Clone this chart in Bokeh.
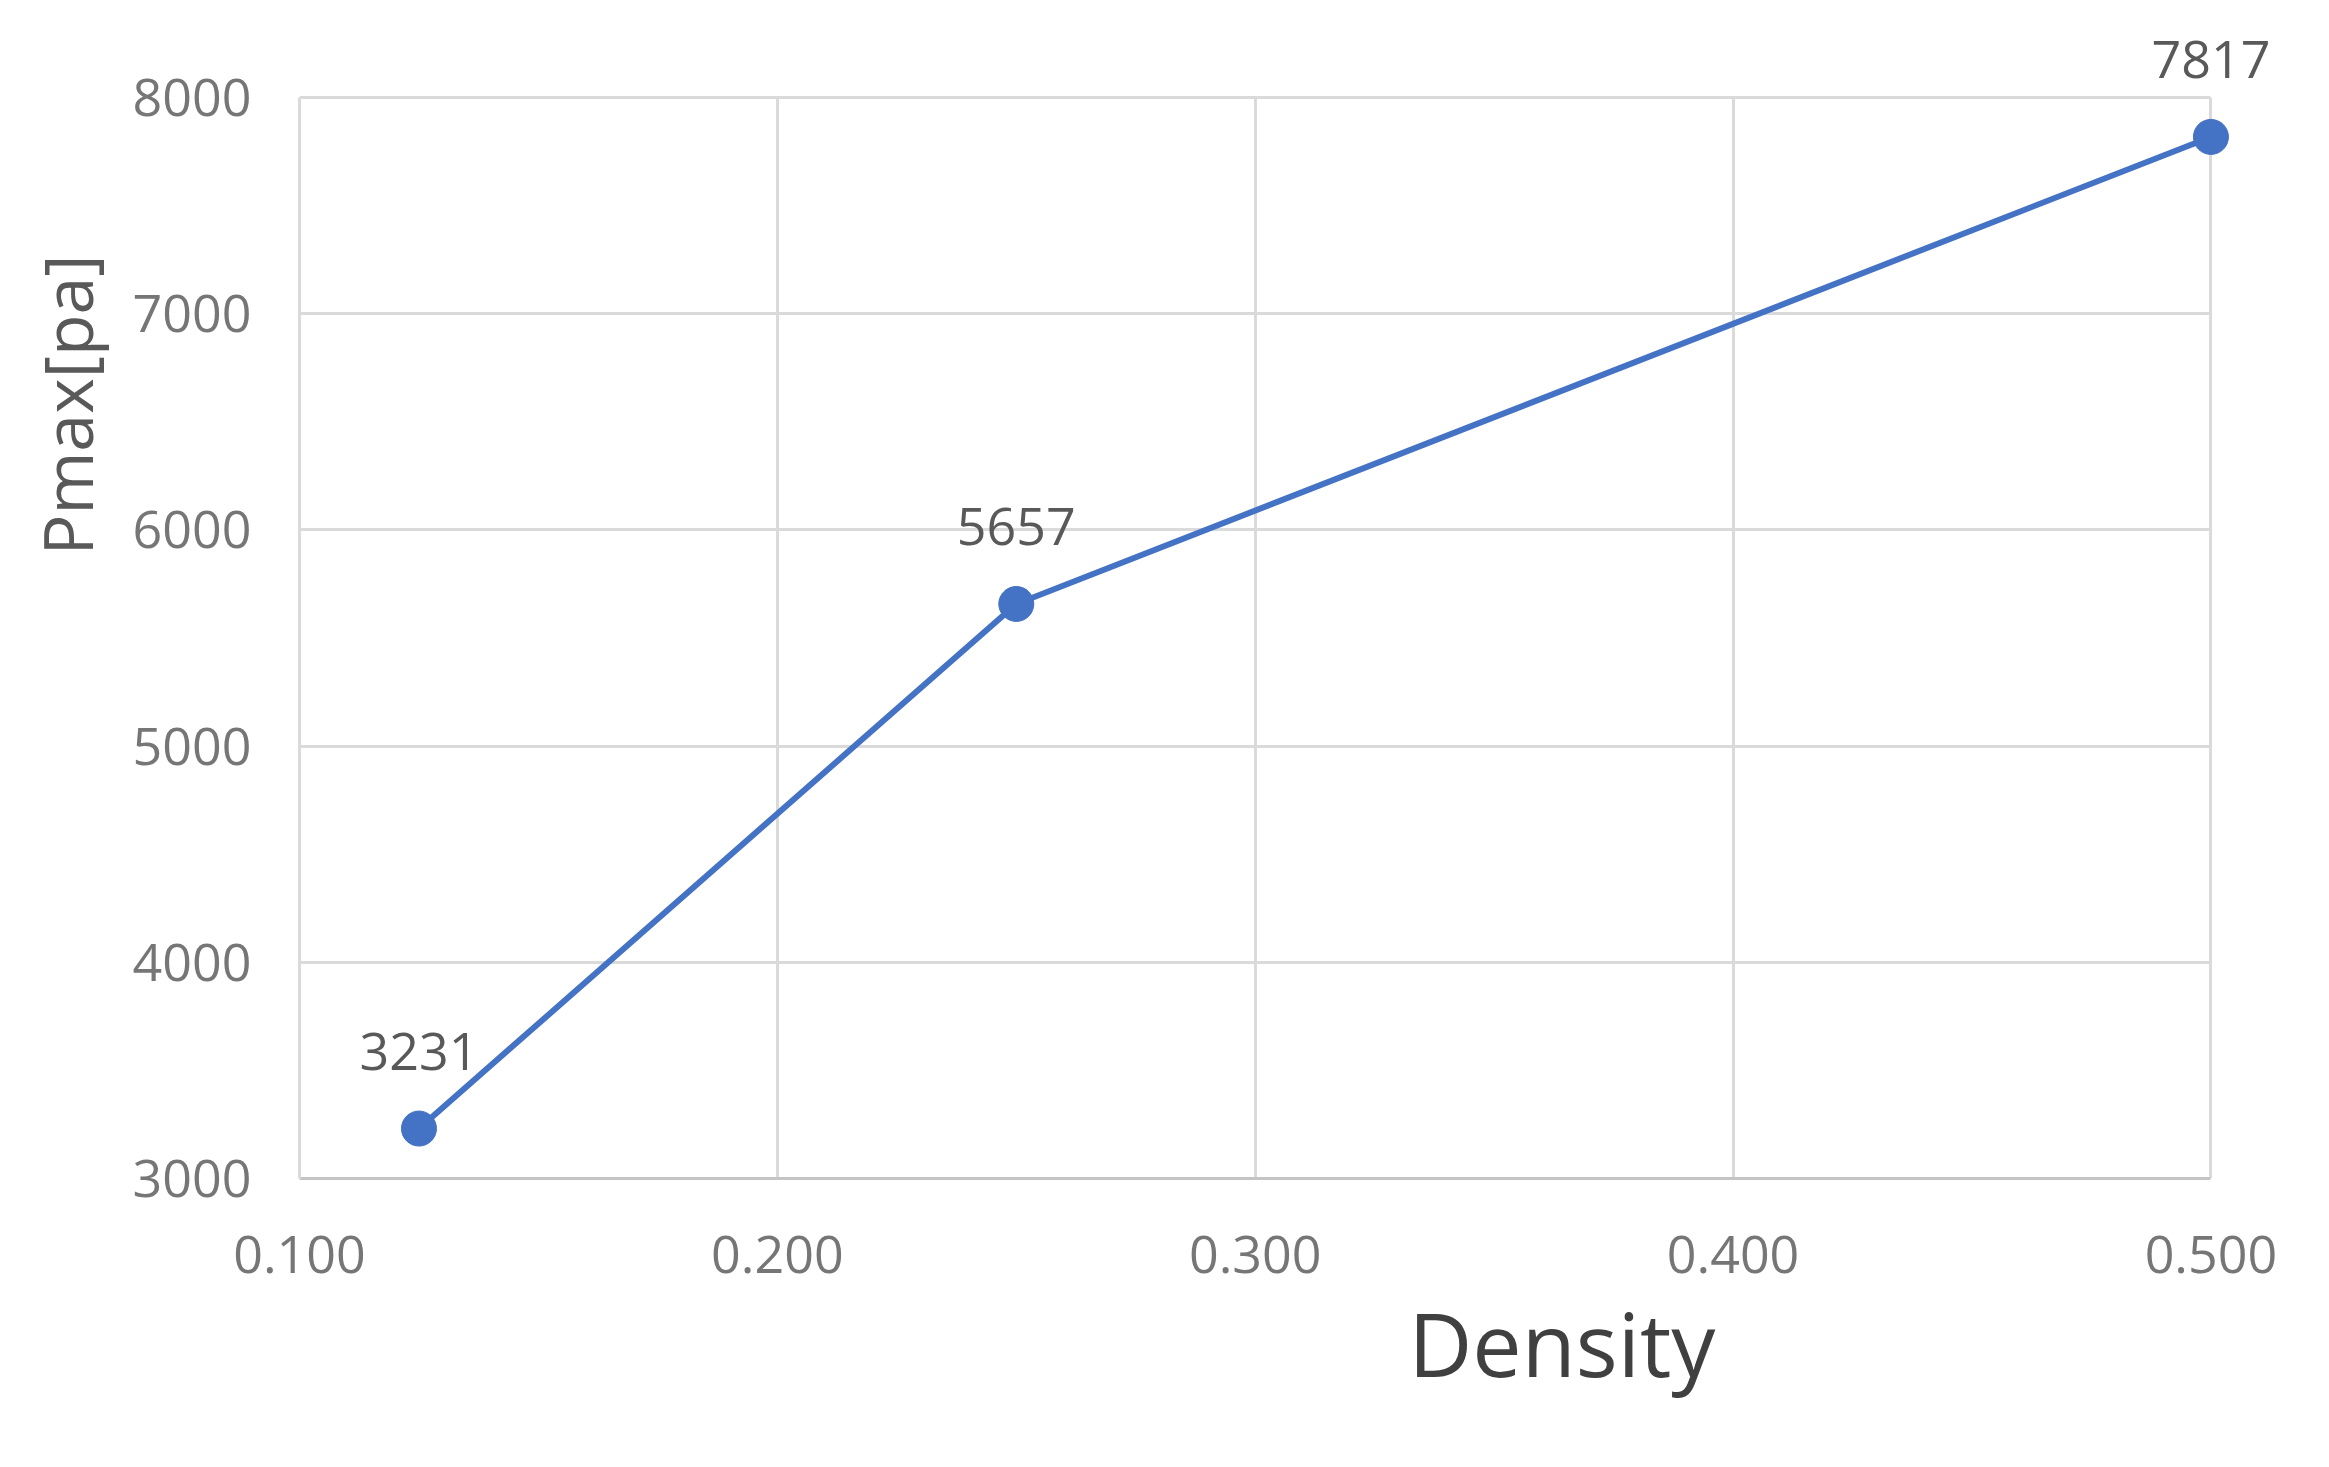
import math
from bokeh.plotting import figure
from bokeh.models import Range1d, FixedTicker, Title, LabelSet, ColumnDataSource, NumeralTickFormatter
from bokeh.core.properties import value
from bokeh.embed import file_html
from bokeh.resources import INLINE

density = [0.125, 0.25, 0.5]
pmax = [3231, 5657, 7817]
x_ticks = [0.1, 0.2, 0.3, 0.4, 0.5]
y_ticks = [3000, 4000, 5000, 6000, 7000, 8000]
x_title = "Density"
y_title = "Pmax[pa]"

FONT = "Open Sans"
BLUE = "#4472C4"
GRID = "#dadada"

# frame extended right/up so the last marker and its label are not clipped;
# axes and grids are bounded to the real axis extents
p = figure(width=2313, height=1451, output_backend="svg", toolbar_location=None,
           x_range=Range1d(0.1, 0.52), y_range=Range1d(3000, 8300))
p.min_border_left = 293
p.min_border_right = 7
p.min_border_top = 32
p.min_border_bottom = 273
p.outline_line_color = None
p.background_fill_color = "white"
p.border_fill_color = "white"

p.xaxis.ticker = FixedTicker(ticks=x_ticks)
p.yaxis.ticker = FixedTicker(ticks=y_ticks)
p.xaxis.bounds = (x_ticks[0], x_ticks[-1])
p.yaxis.bounds = (y_ticks[0], y_ticks[-1])
p.xaxis.formatter = NumeralTickFormatter(format="0.000")
for ax in (p.xaxis, p.yaxis):
    ax.major_tick_line_color = None
    ax.minor_tick_line_color = None
    ax.major_label_text_font = FONT
    ax.major_label_text_font_size = "52px"
    ax.major_label_text_color = "#767676"
    ax.axis_line_width = 3
p.xaxis.axis_line_color = "#c4c4c4"
p.yaxis.axis_line_color = GRID
p.xaxis.major_label_standoff = 51
p.yaxis.major_label_standoff = 42

p.xgrid.grid_line_color = GRID
p.xgrid.grid_line_width = 3
p.xgrid.bounds = (x_ticks[0], x_ticks[-1])
p.xgrid.cross_bounds = (y_ticks[0], y_ticks[-1])
p.ygrid.grid_line_color = GRID
p.ygrid.grid_line_width = 3
p.ygrid.bounds = (y_ticks[0], y_ticks[-1])
p.ygrid.cross_bounds = (x_ticks[0], x_ticks[-1])

src = ColumnDataSource(dict(x=density, y=pmax, t=[str(v) for v in pmax]))
p.line("x", "y", source=src, line_color=BLUE, line_width=6)
p.scatter("x", "y", source=src, size=35, fill_color=BLUE, line_color=BLUE)

labels = LabelSet(x="x", y="y", text="t", source=src, y_offset=77,
                  text_align="center", text_baseline="middle",
                  text_font=value(FONT), text_font_size="52px", text_color="#595959")
p.add_layout(labels)

p.add_layout(Title(text=x_title, align="left", offset=1109, vertical_align="top",
                   standoff=14, text_font=FONT, text_font_size="88px",
                   text_font_style="normal", text_color="#404040"), "below")
p.add_layout(Title(text=y_title, align="left", offset=623, vertical_align="bottom",
                   standoff=34, text_font=FONT, text_font_size="68px",
                   text_font_style="normal", text_color="#595959"), "left")

open("out.html", "w").write(file_html(p, INLINE))
